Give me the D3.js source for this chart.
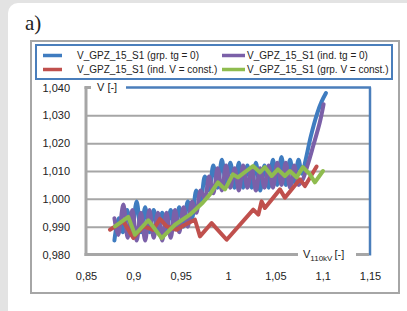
<!DOCTYPE html>
<html><head><meta charset="utf-8">
<script src="https://cdn.jsdelivr.net/npm/d3@7"></script>
<style>
html,body{margin:0;padding:0;background:#e3e3e3;}
svg{display:block;}
text{font-family:"Liberation Sans",Arial,sans-serif;fill:#222;}
</style></head>
<body>
<svg id="c" width="407" height="311"></svg>
<script>
// ---------- data ----------
const xTicks = [0.85, 0.9, 0.95, 1, 1.05, 1.1, 1.15];
const xTickLabels = ["0,85", "0,9", "0,95", "1", "1,05", "1,1", "1,15"];
const yTicks = [0.98, 0.99, 1.00, 1.01, 1.02, 1.03, 1.04];
const yTickLabels = ["0,980", "0,990", "1,000", "1,010", "1,020", "1,030", "1,040"];

const seriesNames = [
  "V_GPZ_15_S1 (grp. tg = 0)",
  "V_GPZ_15_S1 (ind. tg = 0)",
  "V_GPZ_15_S1 (ind. V = const.)",
  "V_GPZ_15_S1 (grp. V = const.)"
];

const blueX = [0.880,0.8845,0.889,0.8935,0.898,0.9035,0.908,0.9125,0.917,0.9215,0.926,0.9305,0.935,0.9395,0.944,0.9485,0.953,0.9575,0.962,0.9665,0.971,0.9755,0.980,0.9845,0.989,0.9935,0.998,1.0025,1.007,1.0115,1.016,1.0205,1.025,1.0295,1.034,1.0385,1.043,1.0475,1.052,1.0565,1.061,1.0655,1.070,1.0745,1.078,1.082,1.0875,1.0945,1.099,1.1035];
const blueY = [0.985,0.993,0.988,0.996,0.987,0.999,0.988,0.997,0.988,0.996,0.988,0.995,0.988,0.996,0.989,0.997,0.990,0.999,0.993,1.003,0.999,1.008,1.003,1.012,1.004,1.014,1.005,1.013,1.004,1.013,1.004,1.012,1.004,1.013,1.003,1.012,1.004,1.014,1.005,1.015,1.005,1.014,1.006,1.014,1.009,1.014,1.0225,1.031,1.035,1.038];

const purpleX = [0.880,0.884,0.8895,0.894,0.899,0.9035,0.908,0.9125,0.917,0.9215,0.926,0.9305,0.935,0.9395,0.944,0.9485,0.953,0.9575,0.962,0.9665,0.971,0.9755,0.980,0.9845,0.989,0.9935,0.998,1.0025,1.007,1.0115,1.016,1.0205,1.025,1.0295,1.034,1.0385,1.043,1.0475,1.052,1.0565,1.061,1.0655,1.070,1.0745,1.079,1.084,1.090,1.097,1.101];
const purpleY = [0.993,0.987,0.998,0.986,0.996,0.985,0.995,0.985,0.996,0.986,0.995,0.985,0.995,0.986,0.996,0.988,0.997,0.990,0.999,0.995,1.003,1.000,1.008,1.002,1.011,1.003,1.012,1.004,1.011,1.003,1.012,1.004,1.011,1.003,1.011,1.004,1.012,1.004,1.013,1.005,1.013,1.004,1.012,1.005,1.007,1.012,1.019,1.0275,1.034];

const redX = [0.8753,0.8894,0.9000,0.9105,0.9211,0.9281,0.9352,0.9458,0.9545,0.9651,0.9704,0.9827,0.9986,1.0267,1.0320,1.0355,1.0390,1.0549,1.0601,1.0760,1.0813,1.0936];
const redY = [0.9889,0.9919,0.9859,0.9901,0.9889,0.9928,0.9901,0.9889,0.9907,0.9925,0.9865,0.9913,0.9853,0.9961,0.9943,0.9991,0.9967,1.0034,1.0004,1.0070,1.0046,1.0116];

const greenX = [0.8806,0.8947,0.9017,0.9158,0.9299,0.9440,0.9598,0.9735,0.9809,0.9894,0.9968,1.0052,1.0105,1.0264,1.0337,1.0390,1.0461,1.0527,1.0601,1.0654,1.0725,1.0791,1.0865,1.0918,1.1003];
const greenY = [0.9901,0.9935,0.9871,0.9923,0.9859,0.9907,0.9943,0.9987,1.0016,1.0059,1.0034,1.0088,1.0077,1.0118,1.0095,1.0114,1.0082,1.0106,1.0082,1.0100,1.0077,1.0114,1.0088,1.0059,1.0100];

const colors = ["#3f7cc0", "#7b60a8", "#c0504d", "#8fbc4f"];

// ---------- drawing ----------
const svg = d3.select("#c");
svg.append("rect").attr("width", 407).attr("height", 311).attr("fill", "#e3e3e3");
svg.append("rect").attr("x", 8).attr("y", 3).attr("width", 420).attr("height", 330).attr("rx", 10).attr("fill", "#fff");

svg.append("text").attr("x", 25).attr("y", 30)
  .style("font-family", "'Liberation Serif','DejaVu Serif',serif").style("font-size", "21px")
  .text("a)");

svg.append("rect").attr("x", 31).attr("y", 41).attr("width", 368).attr("height", 252)
  .attr("fill", "#fff").attr("stroke", "#a6a6a6").attr("stroke-width", 2);

// legend
svg.append("rect").attr("x", 36).attr("y", 45).attr("width", 356).attr("height", 34)
  .attr("fill", "none").attr("stroke", "#4a7ebb").attr("stroke-width", 2);
const legendPos = [
  {lx: 43, tx: 77, y: 55.5, c: 0},
  {lx: 222, tx: 247, y: 55.5, c: 1},
  {lx: 43, tx: 77, y: 69.5, c: 2},
  {lx: 222, tx: 247, y: 69.5, c: 3}
];
legendPos.forEach((p, i) => {
  svg.append("line").attr("x1", p.lx).attr("x2", p.lx + (i % 2 ? 23 : 19)).attr("y1", p.y).attr("y2", p.y)
    .attr("stroke", colors[p.c]).attr("stroke-width", 3.5);
  svg.append("text").attr("x", p.tx).attr("y", p.y).attr("dy", "0.35em")
    .style("font-size", "10px").text(seriesNames[p.c]);
});

const L = 86, R = 370, T = 87.5, B = 254.5;
const x = d3.scaleLinear().domain([0.85, 1.15]).range([L, R]);
const y = d3.scaleLinear().domain([0.98, 1.04]).range([B, T]);

// y axis with gridlines
const yAx = svg.append("g").attr("transform", `translate(${L},0)`)
  .call(d3.axisLeft(y).tickValues(yTicks).tickFormat((d, i) => yTickLabels[i])
    .tickSizeInner(-(R - L)).tickSizeOuter(0).tickPadding(16));
yAx.select(".domain").remove();
yAx.selectAll(".tick line").attr("stroke", "#a6a6a6").attr("stroke-width", 2)
  .filter(d => d === 0.98 || d === 1.04).remove();
yAx.selectAll(".tick text").style("font-size", "11px").attr("fill", "#222");

// x axis
const xAx = svg.append("g").attr("transform", `translate(0,${B})`)
  .call(d3.axisBottom(x).tickValues(xTicks).tickFormat((d, i) => xTickLabels[i])
    .tickSize(0).tickPadding(18));
xAx.select(".domain").remove();
xAx.selectAll(".tick text").style("font-size", "11px").attr("fill", "#222");

// axes frame
svg.append("line").attr("x1", L).attr("x2", L).attr("y1", T - 1).attr("y2", B + 1.5)
  .attr("stroke", "#a6a6a6").attr("stroke-width", 3);
svg.append("line").attr("x1", L - 1.5).attr("x2", 298).attr("y1", B).attr("y2", B)
  .attr("stroke", "#a6a6a6").attr("stroke-width", 3);
svg.append("line").attr("x1", L - 1.5).attr("x2", 91).attr("y1", T).attr("y2", T)
  .attr("stroke", "#a6a6a6").attr("stroke-width", 3);
svg.append("line").attr("x1", 126).attr("x2", R + 1).attr("y1", T).attr("y2", T)
  .attr("stroke", "#4a7ebb").attr("stroke-width", 2.5);
svg.append("line").attr("x1", R).attr("x2", R).attr("y1", T).attr("y2", B + 1)
  .attr("stroke", "#4a7ebb").attr("stroke-width", 2.5);
svg.append("line").attr("x1", 356).attr("x2", R - 1).attr("y1", B).attr("y2", B)
  .attr("stroke", "#a6a6a6").attr("stroke-width", 3);

// axis titles
svg.append("text").attr("x", 97).attr("y", T).attr("dy", "0.35em").style("font-size", "11px").text("V [-]");
const xt = svg.append("text").attr("x", 303).attr("y", B).attr("dy", "0.35em").style("font-size", "11px");
xt.append("tspan").text("V");
xt.append("tspan").attr("dy", "3").style("font-size", "8px").text("110kV");
xt.append("tspan").attr("dy", "-3").attr("dx", "2").text("[-]");

// series
const smooth = d3.line().x(d => x(d[0])).y(d => y(d[1])).curve(d3.curveCatmullRom.alpha(0.5));
const straight = d3.line().x(d => x(d[0])).y(d => y(d[1]));
const series = [
  {xs: blueX, ys: blueY, c: colors[0], g: smooth},
  {xs: purpleX, ys: purpleY, c: colors[1], g: smooth},
  {xs: redX, ys: redY, c: colors[2], g: straight},
  {xs: greenX, ys: greenY, c: colors[3], g: straight}
];
series.forEach(s => {
  const pts = s.xs.map((v, i) => [v, s.ys[i]]);
  svg.append("path").datum(pts).attr("d", s.g).attr("fill", "none")
    .attr("stroke", s.c).attr("stroke-width", 4)
    .attr("stroke-linejoin", "round").attr("stroke-linecap", "round");
});
</script>
</body></html>
